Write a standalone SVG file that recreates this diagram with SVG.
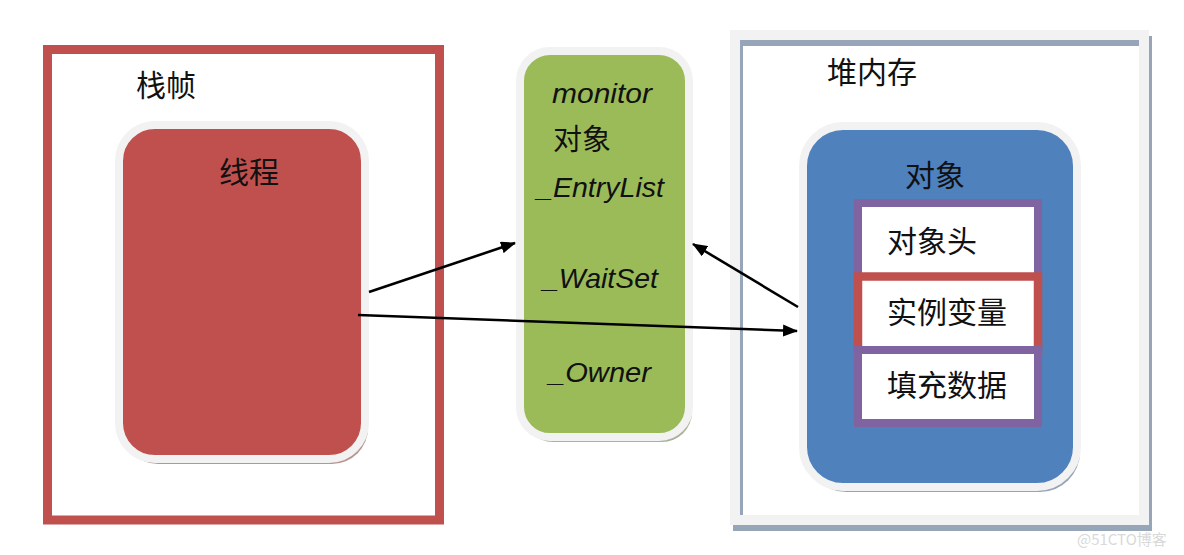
<svg xmlns="http://www.w3.org/2000/svg" width="1184" height="555" viewBox="0 0 1184 555">
  <defs>
    <marker id="arr" viewBox="0 0 15 12" refX="14" refY="6" markerWidth="15" markerHeight="12" markerUnits="userSpaceOnUse" orient="auto">
      <path d="M0,0 L15,6 L0,12 Z" fill="#000"/>
    </marker>
    <style>
      .cjk { font-family: "Noto Sans CJK SC", sans-serif; font-size: 30px; fill: #111; }
      .lat { font-family: "Liberation Sans", Arial, sans-serif; font-style: italic; font-size: 28px; fill: #111; }
      .edge { stroke: #000; stroke-width: 2.6; fill: none; marker-end: url(#arr); }
      .rim { stroke: #f2f2f2; stroke-width: 8; }
    </style>
  </defs>
  <rect x="0" y="0" width="1184" height="555" fill="#ffffff"/>

  <g id="stack-frame">
    <rect x="47.5" y="49.5" width="392" height="470.5" fill="#ffffff" stroke="#c0504d" stroke-width="9"/>
    <text class="cjk" x="136" y="96">栈帧</text>
  </g>

  <g id="thread">
    <rect x="122" y="130" width="246" height="334" rx="36" fill="#b89595"/>
    <rect class="rim" x="119" y="125" width="246" height="334" rx="36" fill="#c0504d"/>
    <text class="cjk" x="219" y="183">线程</text>
  </g>

  <g id="monitor">
    <rect x="523" y="56" width="169" height="386" rx="30" fill="#a8b398"/>
    <rect class="rim" x="520" y="51" width="169" height="386" rx="30" fill="#9bbb59"/>
    <text class="lat" x="552" y="103" textLength="100" lengthAdjust="spacingAndGlyphs">monitor</text>
    <text class="cjk" x="553" y="150" style="font-size:29px">对象</text>
    <text class="lat" x="537" y="197" textLength="127" lengthAdjust="spacingAndGlyphs">_EntryList</text>
    <text class="lat" x="543" y="288" textLength="115" lengthAdjust="spacingAndGlyphs">_WaitSet</text>
    <text class="lat" x="549" y="382" textLength="102" lengthAdjust="spacingAndGlyphs">_Owner</text>
  </g>

  <g id="heap">
    <rect x="738" y="41" width="409" height="485" fill="none" stroke="#97a5b8" stroke-width="10"/>
    <rect x="735" y="35" width="409" height="485" fill="none" stroke="#f2f2f2" stroke-width="10"/>
    <text class="cjk" x="827" y="83">堆内存</text>
  </g>

  <g id="object">
    <rect x="806" y="131" width="274" height="361" rx="40" fill="#95a4b8"/>
    <rect class="rim" x="803" y="126" width="274" height="361" rx="40" fill="#4f81bd"/>
    <text class="cjk" x="905" y="186">对象</text>
  </g>

  <g id="object-header">
    <rect x="858" y="203" width="180" height="74" fill="#ffffff" stroke="#8064a2" stroke-width="8"/>
    <text class="cjk" x="887" y="252">对象头</text>
  </g>

  <g id="instance-vars">
    <rect x="858" y="276.5" width="180" height="74" fill="#ffffff" stroke="#c0504d" stroke-width="8.5"/>
    <text class="cjk" x="887" y="323">实例变量</text>
  </g>

  <g id="padding">
    <rect x="858" y="350" width="180" height="73" fill="#ffffff" stroke="#8064a2" stroke-width="8"/>
    <text class="cjk" x="887" y="396">填充数据</text>
  </g>

  <g id="connectors">
    <line class="edge" x1="369" y1="292" x2="515" y2="243"/>
    <line class="edge" x1="358" y1="315" x2="797" y2="331"/>
    <line class="edge" x1="798" y1="307" x2="693" y2="244"/>
  </g>

  <text x="1077" y="545" style="font-family:'Noto Sans CJK SC',sans-serif;font-size:15px;fill:#d9d9d9">@51CTO博客</text>
</svg>
